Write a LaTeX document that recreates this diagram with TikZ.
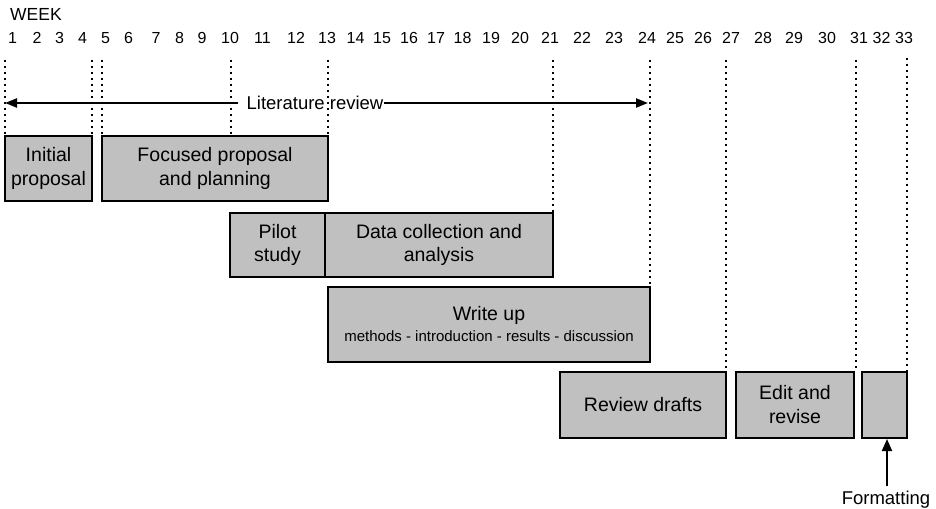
\documentclass[tikz,border=0pt]{standalone}
\usepackage{fontspec}
\setmainfont{Liberation Sans}
\usetikzlibrary{arrows.meta}
\definecolor{boxgray}{RGB}{192,192,192}
\newcommand\boxfont{\fontsize{19.5bp}{24bp}\selectfont}
\newcommand\smallfnt{\fontsize{15bp}{18bp}\selectfont}
\newcommand\numfont{\fontsize{16bp}{19bp}\selectfont}
\newcommand\labfont{\fontsize{18.5bp}{22bp}\selectfont}
\newcommand\weekfont{\fontsize{17.5bp}{21bp}\selectfont}
\begin{document}
\begin{tikzpicture}[x=1bp,y=-1bp,
  box/.style={draw=black,line width=2bp,fill=boxgray,inner sep=0pt,align=center,font=\boxfont},
  dotl/.style={line width=1.7bp,dash pattern=on 1.7bp off 4.3bp},
  arr/.style={line width=2.2bp,-{Triangle[length=12bp,width=9bp]}},
  num/.style={anchor=base,inner sep=0pt,font=\numfont}]
\useasboundingbox (0,0) rectangle (936,509);

% header
\node[anchor=base west,inner sep=0pt,font=\weekfont] (week) at (10,21) {WEEK};
\foreach \n/\x in {1/12.5,2/37,3/59.5,4/82.5,5/105.5,6/128.5,7/156,8/179.5,9/202,10/230,
  11/262.5,12/296,13/327,14/355.5,15/382,16/409,17/436,18/462.5,19/491,20/520,
  21/550,22/582,23/614,24/647,25/675,26/703,27/731,28/763,29/794,30/827,
  31/859,32/881.5,33/904}
  \node[num] (w\n) at (\x,44) {\n};

% boxes
\node[box,minimum width=87bp,minimum height=65bp] (init) at (48.5,168.5) {Initial\\proposal};
\node[box,minimum width=226bp,minimum height=65bp] (focus) at (215,168.5) {Focused proposal\\and planning};
\node[box,minimum width=95bp,minimum height=64bp] (pilot) at (277.5,245) {\raisebox{2bp}{\shortstack{Pilot\\[6bp]study}}};
\node[box,minimum width=228bp,minimum height=64bp] (data) at (439,245) {\raisebox{2bp}{\shortstack{Data collection and\\[6bp]analysis}}};
\node[box,minimum width=322bp,minimum height=75bp] (write) at (489,324.5)
  {Write up\\[-3bp]{\smallfnt methods - introduction - results - discussion}};
\node[box,minimum width=166bp,minimum height=66bp] (review) at (643,405) {Review drafts};
\node[box,minimum width=118bp,minimum height=66bp] (edit) at (795,405) {Edit and\\revise};
\node[box,minimum width=45bp,minimum height=66bp] (fmtbox) at (884.5,405) {};

% dotted week lines
\coordinate (d1) at (5,60);
\coordinate (d4) at (92,60);
\coordinate (d5) at (102,60);
\coordinate (d10) at (231,60);
\coordinate (d13) at (328,60);
\coordinate (d21) at (553,60);
\coordinate (d24) at (650,60);
\coordinate (d27) at (726,60);
\coordinate (d31) at (856,60);
\coordinate (d33) at (907,58);
\draw[dotl] (d1) -- (d1 |- init.north);
\draw[dotl] (d4) -- (d4 |- init.north);
\draw[dotl] (d5) -- (d5 |- focus.north);
\draw[dotl] (d10) -- (d10 |- focus.north);
\draw[dotl] (d13) -- (d13 |- focus.north);
\draw[dotl] (d21) -- (d21 |- data.north);
\draw[dotl] (d24) -- (d24 |- write.north);
\draw[dotl] (d27) -- (d27 |- review.north);
\draw[dotl] (d31) -- (d31 |- edit.north);
\draw[dotl] (d33) -- (d33 |- fmtbox.north);

% literature review arrow
\node[inner sep=0pt,font=\labfont] (lit) at (315,103) {Literature review};
\coordinate (litL) at (5,103);
\coordinate (litR) at (648,103);
\draw[arr] ([xshift=-8bp]lit.west) -- (litL);
\draw[arr] (lit.east) -- (litR);

% formatting label
\node[anchor=base,inner sep=0pt,font=\labfont] (fmtlbl) at (886,504) {Formatting};
\coordinate (fmttop) at (887,486);
\draw[line width=2bp,-{Triangle[length=12bp,width=10bp]}] (fmttop) -- (fmttop |- fmtbox.south);
\end{tikzpicture}
\end{document}
